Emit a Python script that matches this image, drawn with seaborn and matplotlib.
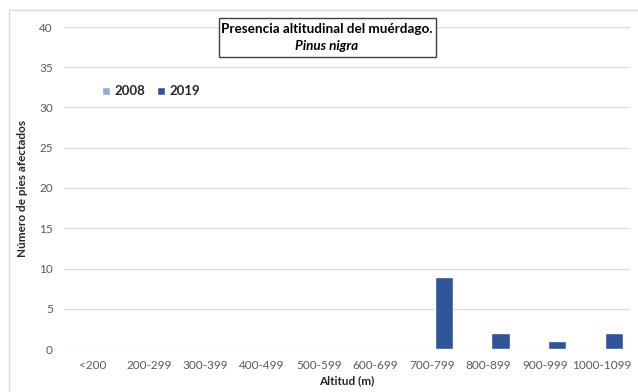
import matplotlib
matplotlib.use("Agg")
import matplotlib.pyplot as plt
from matplotlib.patches import Rectangle
import seaborn as sns
import pandas as pd

# Altitude classes (m) and number of affected trees per survey year
altitudes = ["<200", "200-299", "300-399", "400-499", "500-599",
             "600-699", "700-799", "800-899", "900-999", "1000-1099"]
years = ["2008", "2019"]
trees_2008 = [0, 0, 0, 0, 0, 0, 0, 0, 0, 0]
trees_2019 = [0, 0, 0, 0, 0, 0, 9, 2, 1, 2]
y_ticks = [0, 5, 10, 15, 20, 25, 30, 35, 40]

df = pd.DataFrame({
    "Altitud": altitudes * 2,
    "Año": [years[0]] * len(altitudes) + [years[1]] * len(altitudes),
    "Pies": trees_2008 + trees_2019,
})

sns.set_theme(style="white")
plt.rcParams["font.family"] = ["Lato", "DejaVu Sans"]

grey = "#595959"
palette = {"2008": "#8FAADC", "2019": "#2F5597"}

fig = plt.figure(figsize=(6.38, 3.92), dpi=100)
ax = fig.add_axes([64 / 638, 1 - 349 / 392, 566 / 638, 322 / 392])

sns.barplot(data=df, x="Altitud", y="Pies", hue="Año", order=altitudes,
            hue_order=years, palette=palette, width=0.85, gap=0.24,
            saturation=1, ax=ax, legend=True)

ax.set_ylim(0, 40)
ax.set_yticks(y_ticks)
ax.set_yticklabels([str(v) for v in y_ticks], fontsize=8.5, color=grey)
ax.set_xticks(range(len(altitudes)))
ax.set_xticklabels(altitudes, fontsize=8.5, color=grey)
ax.tick_params(axis="y", length=0, pad=8)
ax.tick_params(axis="x", length=0, pad=8)
ax.grid(axis="y", color="#D9D9D9", linewidth=0.9)
ax.set_axisbelow(True)
for s in ax.spines.values():
    s.set_visible(False)

ax.set_xlabel("Altitud (m)", fontsize=8.5, fontweight="bold", color="#262626",
              labelpad=3)
ax.set_ylabel("Número de pies afectados", fontsize=8.5, fontweight="bold",
              color="#262626", labelpad=8)

leg = ax.legend(loc="center left", bbox_to_anchor=(0.058, 0.80), ncol=2,
                frameon=False, fontsize=9.5, handlelength=0.6,
                handleheight=0.6, handletextpad=0.35, columnspacing=0.9,
                borderaxespad=0, prop={"size": 9.5, "weight": "bold"})
for t in leg.get_texts():
    t.set_color("#262626")

# Boxed title
fig.patches.append(Rectangle((219 / 638, 1 - 57 / 392), 217 / 638, 39 / 392,
                             transform=fig.transFigure, facecolor="white",
                             edgecolor="#404040", linewidth=1.0, zorder=5))
fig.text(327 / 638, 1 - 29 / 392, "Presencia altitudinal del muérdago.",
         ha="center", va="center", fontsize=9.7, fontweight="bold",
         color="black", zorder=6)
fig.text(327 / 638, 1 - 46 / 392, "Pinus nigra", ha="center", va="center",
         fontsize=9.7, fontweight="bold", style="italic", color="black",
         zorder=6)

# Chart frame
fig.patches.append(Rectangle((9 / 638, -0.05), 1.0, 1 - 10 / 392 + 0.05,
                             transform=fig.transFigure, facecolor="none",
                             edgecolor="#D9D9D9", linewidth=1.0, zorder=0))

fig.savefig("out.png", dpi=100)
